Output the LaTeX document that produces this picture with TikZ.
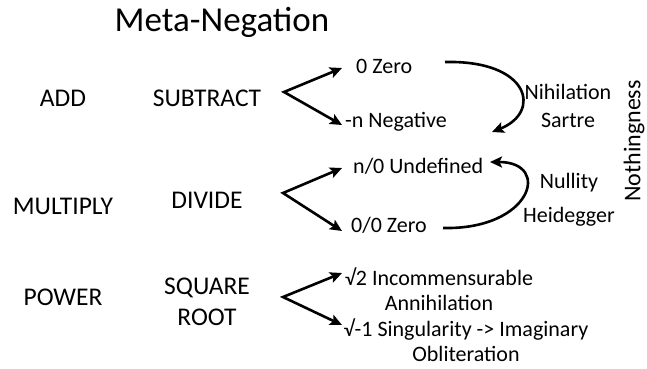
\documentclass[tikz,border=0pt]{standalone}
\usepackage{fontspec}
\setmainfont{Carlito}
\usetikzlibrary{arrows.meta}
\begin{document}
\begin{tikzpicture}[x=1pt,y=-1pt,
  title/.style={font=\fontsize{35}{40}\selectfont, inner sep=0pt},
  oplabel/.style={font=\fontsize{25.5}{31}\selectfont, inner sep=0pt, align=center},
  result/.style={font=\fontsize{22}{25}\selectfont, inner sep=0pt, align=center},
  branch/.style={line width=2.6pt, {Stealth[length=12pt,width=11pt,inset=2.5pt]}-{Stealth[length=12pt,width=11pt,inset=2.5pt]}},
  curvearrow/.style={line width=2.6pt, -{Stealth[length=12pt,width=11pt,inset=2.5pt]}}
]
\useasboundingbox (0,0) rectangle (647,368);
\node[title] (t) at (222,22) {Meta-Negation};
% operations
\node[oplabel] (add) at (63,98) {ADD};
\node[oplabel] (sub) at (207,98) {SUBTRACT};
\node[oplabel] (mul) at (63,206) {MULTIPLY};
\node[oplabel] (div) at (207,200) {DIVIDE};
\node[oplabel] (pow) at (63,297) {POWER};
\node[oplabel] (sqr) at (207,302) {SQUARE\\ROOT};
% branch points
\coordinate (v1) at (284,92);
\coordinate (a1) at (342,68);
\coordinate (b1) at (342,125);
\coordinate (v2) at (283,193);
\coordinate (a2) at (342,168);
\coordinate (b2) at (342,231);
\coordinate (v3) at (283,297);
\coordinate (a3) at (342,273);
\coordinate (b3) at (342,325);
% results
\node[result, anchor=west] (zero) at (356,66) {0 Zero};
\node[result, anchor=west] (neg) at (345,122) {-n Negative};
\node[result, anchor=west] (undef) at (353,166) {n/0 Undefined};
\node[result, anchor=west] (zz) at (351,225) {0/0 Zero};
\node[result] (incomm) at (439,289) {√2 Incommensurable\\Annihilation};
\node[result] (sing) at (466,340) {√-1 Singularity -> Imaginary\\Obliteration};
\node[result] (nih) at (568,106) {Nihilation\\[3pt]Sartre};
\node[result] (nul) at (569,200) {Nullity\\[9pt]Heidegger};
\node[result, font=\fontsize{24}{28}\selectfont, rotate=90] (noth) at (634,141) {Nothingness};
% connectors
\draw[branch] (a1) -- (v1) -- (b1);
\draw[branch] (a2) -- (v2) -- (b2);
\draw[branch] (a3) -- (v3) -- (b3);
\coordinate (c1s) at (445,62);
\coordinate (c1e) at (492,132);
\coordinate (c2s) at (443,228);
\coordinate (c2e) at (490,162);
\draw[curvearrow] (c1s) .. controls (530,60) and (542,112) .. (c1e);
\draw[curvearrow] (c2s) .. controls (532,230) and (552,162) .. (c2e);
\end{tikzpicture}
\end{document}
